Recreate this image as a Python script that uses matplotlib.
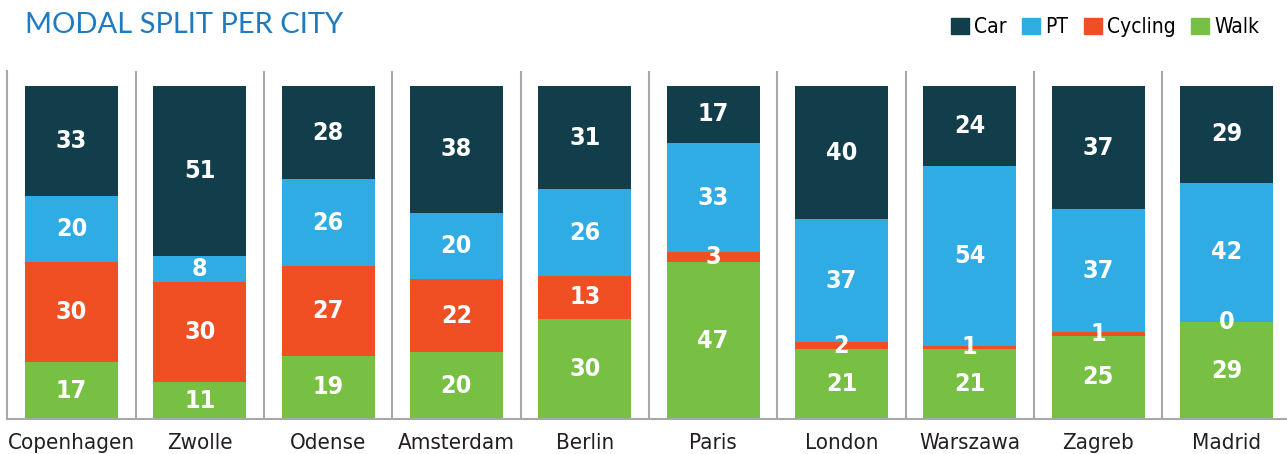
import matplotlib.pyplot as plt
import numpy as np
from matplotlib.patches import Patch

cities = ['Copenhagen', 'Zwolle', 'Odense', 'Amsterdam', 'Berlin', 'Paris',
          'London', 'Warszawa', 'Zagreb', 'Madrid']
walk = [17, 11, 19, 20, 30, 47, 21, 21, 25, 29]
cycling = [30, 30, 27, 22, 13, 3, 2, 1, 1, 0]
pt = [20, 8, 26, 20, 26, 33, 37, 54, 37, 42]
car = [33, 51, 28, 38, 31, 17, 40, 24, 37, 29]

series = [('Walk', walk, '#78C043'), ('Cycling', cycling, '#F04E23'),
          ('PT', pt, '#2EACE3'), ('Car', car, '#123E4C')]

cond = dict(family='DejaVu Sans', stretch='condensed')

fig = plt.figure(figsize=(12.87, 4.54), dpi=100)
ax = fig.add_axes([7.3 / 1287, 35 / 454, 1283.2 / 1287, 348 / 454])

x = np.arange(len(cities))
bottom = np.zeros(len(cities))
for name, vals, col in series:
    vals = np.array(vals, dtype=float)
    ax.bar(x, vals, width=0.725, bottom=bottom, color=col, linewidth=0)
    for xi, b, v in zip(x, bottom, vals):
        ax.text(xi, b + v / 2, f'{int(v)}', ha='center', va='center',
                color='white', fontsize=18, fontweight='bold', **cond)
    bottom += vals

ax.set_xlim(-0.5, 9.5)
ax.set_ylim(0, 104.5)
for b in np.arange(0.5, 9.5, 1):
    ax.axvline(b, color='#A8A8A8', lw=1.5, zorder=0)

for s in ['top', 'right']:
    ax.spines[s].set_visible(False)
ax.spines['left'].set_color('#A8A8A8')
ax.spines['left'].set_linewidth(1.5)
ax.spines['bottom'].set_color('#A8A8A8')
ax.spines['bottom'].set_linewidth(1.5)
ax.set_yticks([])
ax.set_xticks(x)
ax.set_xticklabels(cities, fontsize=16, color='#231F20', **cond)
ax.tick_params(axis='x', length=0, pad=10)

fig.text(0.0195, 0.945, 'MODAL SPLIT PER CITY', fontsize=21, color='#1F7BC1',
         ha='left', va='center', family=['Lato', 'DejaVu Sans'])

handles = [Patch(color='#123E4C', label='Car'), Patch(color='#2EACE3', label='PT'),
           Patch(color='#F04E23', label='Cycling'), Patch(color='#78C043', label='Walk')]
fig.legend(handles=handles, loc='center right', bbox_to_anchor=(0.993, 0.94), ncol=4,
           frameon=False, handlelength=0.85, handleheight=0.85, handletextpad=0.25,
           columnspacing=0.75, prop=dict(size=15, **cond))

fig.savefig('out.png', dpi=100)
